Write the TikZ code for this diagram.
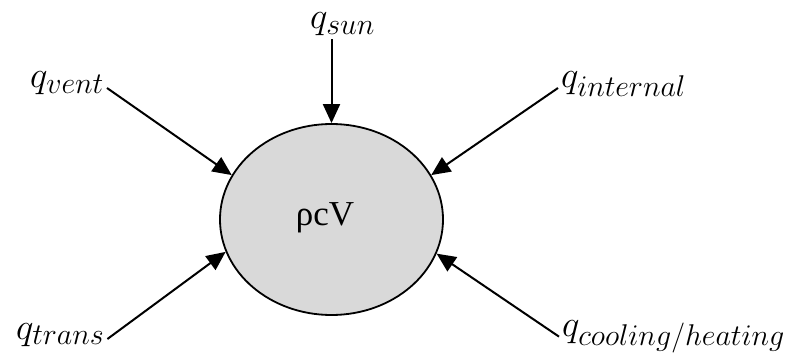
\RequirePackage{fix-cm}
\documentclass[tikz,border=0pt]{standalone}
\usepackage{fontspec}
\newfontfamily\greekfont{Liberation Serif}
\usetikzlibrary{arrows.meta, shapes.geometric}
\definecolor{bodygray}{RGB}{217,217,217}
\DeclareMathSizes{37}{37}{30}{22}

\begin{document}
\begin{tikzpicture}[x=1pt, y=1pt,
  flux/.style={font=\fontsize{37}{44}\selectfont, inner sep=3pt, anchor=base west},
  inflow/.style={-{Triangle[length=19pt, width=17pt]}, line width=2pt}]
  \useasboundingbox (0,0) rectangle (787,354);
  % control volume
  \node[draw, ellipse, line width=1.8pt, fill=bodygray,
        minimum width=223pt, minimum height=191pt] (body) at (331.5,134.5) {};
  \node[font=\greekfont\fontsize{35}{40}\selectfont, anchor=base] (rcv) at (325,129) {ρcV};

  % heat flows into the volume
  \node[flux] (sun)      at (307,325) {$q_{sun}$};
  \node[flux] (vent)     at (27,266)  {$q_{vent}$};
  \node[flux] (internal) at (558,266) {$q_{internal}$};
  \node[flux] (trans)    at (13,15)   {$q_{trans}$};
  \node[flux] (cooling)  at (559,18)  {$q_{cooling/heating}$};

  \draw[inflow] (sun.south -| body.north) -- (body.north);
  \foreach \src/\side/\ang in {vent/base east/156, internal/base west/24,
                               trans/base east/197.6, cooling/west/-18}
    \draw[inflow] (\src.\side) -- (body.\ang);
\end{tikzpicture}
\end{document}
